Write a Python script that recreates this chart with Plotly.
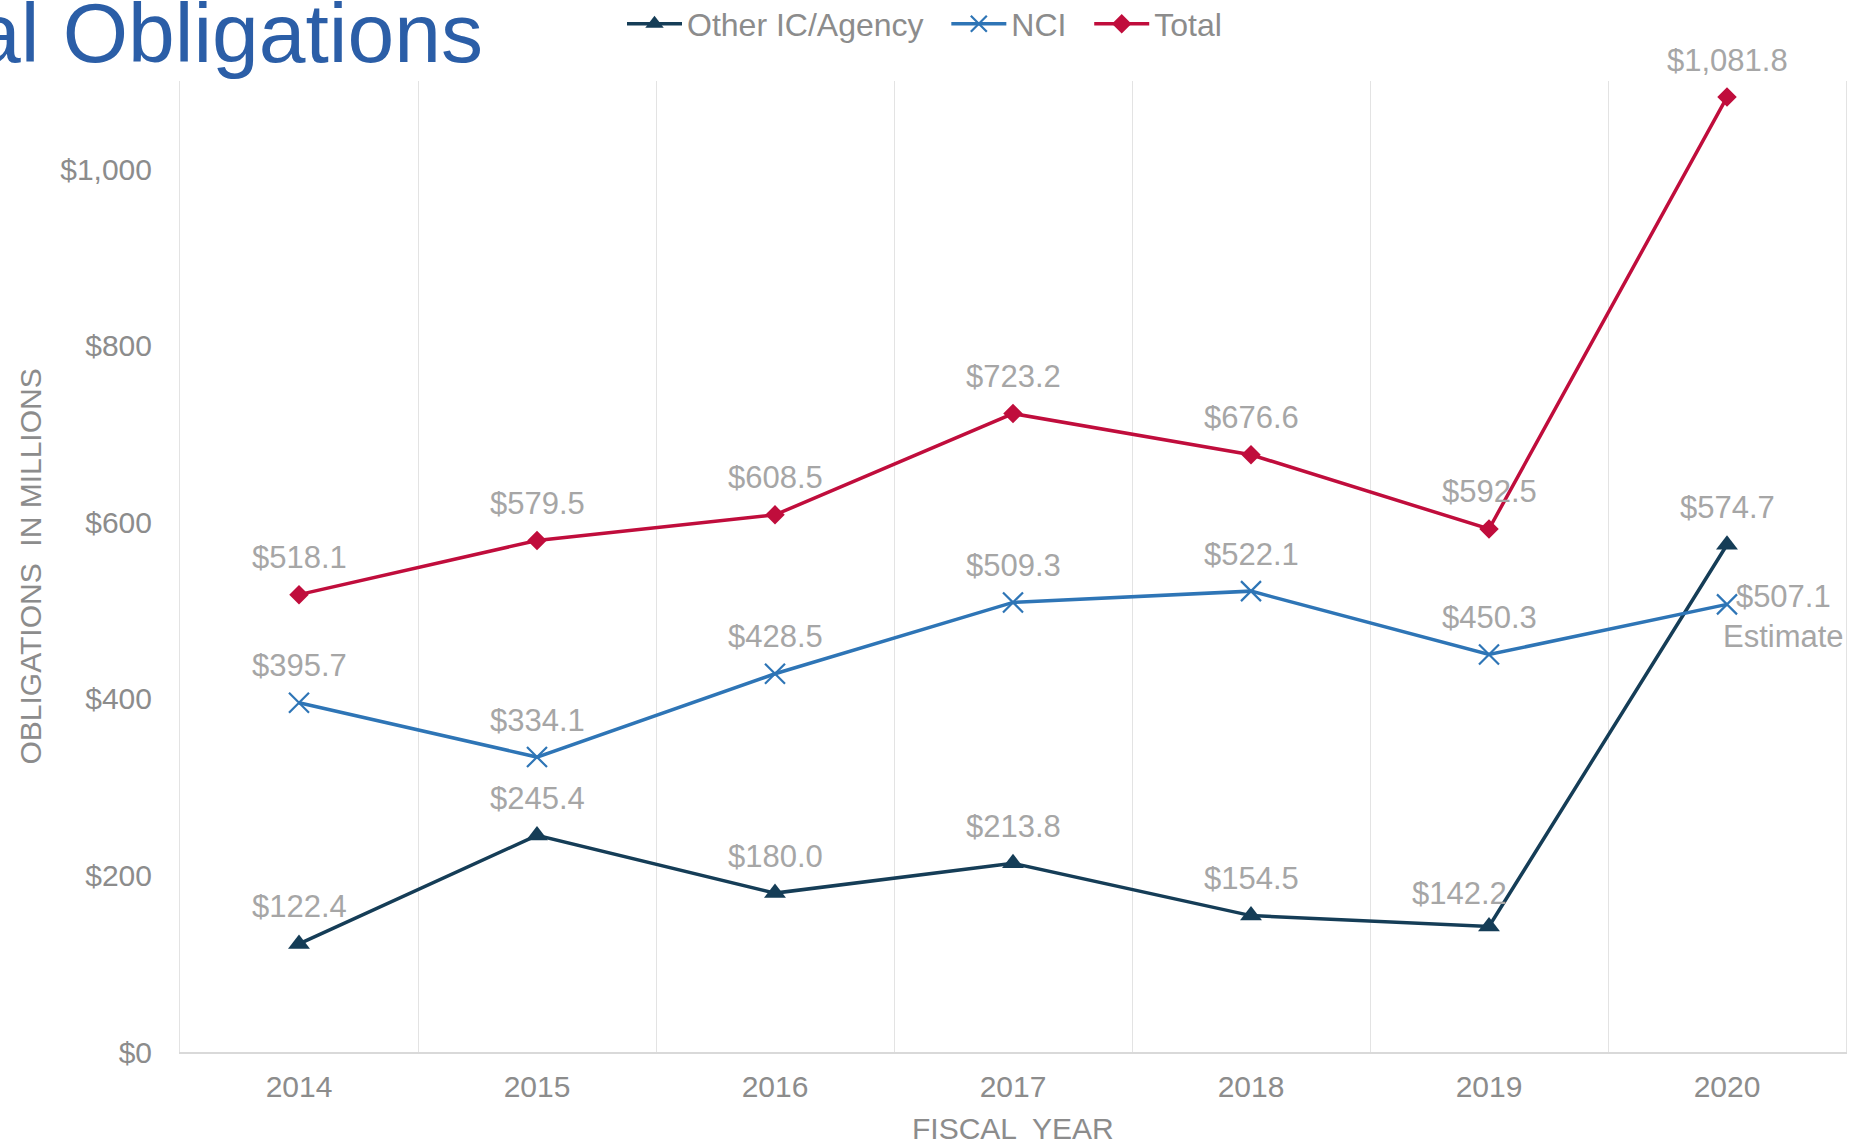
import plotly.graph_objects as go

years = ["2014", "2015", "2016", "2017", "2018", "2019", "2020"]
other_ic = [122.4, 245.4, 180.0, 213.8, 154.5, 142.2, 574.7]
nci = [395.7, 334.1, 428.5, 509.3, 522.1, 450.3, 507.1]
total = [518.1, 579.5, 608.5, 723.2, 676.6, 592.5, 1081.8]
y_ticks = [0, 200, 400, 600, 800, 1000]

FONT = "Liberation Sans, Arial, sans-serif"
LABEL_GRAY = "#a6a6a6"
AXIS_GRAY = "#8c8c8c"
C_OTHER = "#153d57"
C_NCI = "#2e75b6"
C_TOTAL = "#c00d3c"
PAD = "\u00a0\u00a0"  # spacing between legend entries

xs = list(range(len(years)))

fig = go.Figure()
fig.add_trace(go.Scatter(x=xs, y=other_ic, name="Other IC/Agency" + PAD, mode="lines+markers",
                         line=dict(color=C_OTHER, width=3.5),
                         marker=dict(symbol="triangle-up", size=19, color=C_OTHER)))
fig.add_trace(go.Scatter(x=xs, y=nci, name="NCI" + PAD, mode="lines+markers",
                         line=dict(color=C_NCI, width=3.5),
                         marker=dict(symbol="x-thin", size=20, color=C_NCI,
                                     line=dict(color=C_NCI, width=2.2))))
fig.add_trace(go.Scatter(x=xs, y=total, name="Total", mode="lines+markers",
                         line=dict(color=C_TOTAL, width=3.5),
                         marker=dict(symbol="diamond", size=15, color=C_TOTAL)))

annotations = []
def money(v):
    return "${:,.1f}".format(v)

for series_name, vals in (("other", other_ic), ("nci", nci), ("total", total)):
    for i, v in enumerate(vals):
        text = money(v)
        xshift, yshift = 0, 37
        if series_name == "nci" and i == len(vals) - 1:
            text = text + "<br>Estimate"
            xshift, yshift = 56, -12
        if series_name == "other" and i == 5:
            xshift, yshift = -30, 33
        annotations.append(dict(x=i, y=v, xref="x", yref="y", text=text, showarrow=False,
                                xshift=xshift, yshift=yshift,
                                font=dict(family=FONT, size=31, color=LABEL_GRAY)))

# Title (cropped at left in the reference)
annotations.append(dict(x=(-28 - 180) / 1666, y=1.0 + (81 - 33) / 971, xref="paper", yref="paper",
                        xanchor="left", yanchor="middle", text="al Obligations", showarrow=False,
                        font=dict(family=FONT, size=84, color="#2b5ea7")))
# Axis titles
annotations.append(dict(x=0.5, y=-(1128 - 1052) / 971, xref="paper", yref="paper",
                        xanchor="center", yanchor="middle", text="FISCAL  YEAR", showarrow=False,
                        font=dict(family=FONT, size=30, color=AXIS_GRAY)))
annotations.append(dict(x=-(180 - 30) / 1666, y=0.5, xref="paper", yref="paper",
                        xanchor="center", yanchor="middle", text="OBLIGATIONS  IN MILLIONS",
                        textangle=-90, showarrow=False,
                        font=dict(family=FONT, size=30, color=AXIS_GRAY)))

fig.update_layout(
    width=1861, height=1144,
    margin=dict(l=180, r=15, t=81, b=92, autoexpand=False),
    paper_bgcolor="white", plot_bgcolor="white",
    font=dict(family=FONT, color=AXIS_GRAY),
    showlegend=True,
    legend=dict(orientation="h", x=(622 - 180) / 1666, xanchor="left",
                y=1.0 + (81 - 24) / 971, yanchor="middle",
                font=dict(family=FONT, size=32, color=AXIS_GRAY),
                bgcolor="rgba(0,0,0,0)", itemwidth=55, tracegroupgap=0),
    annotations=annotations,
    xaxis=dict(range=[-0.5, len(years) - 0.5], tickmode="array", tickvals=xs, ticktext=years,
               showgrid=False, zeroline=False, showline=True, linecolor="#d9d9d9", linewidth=2,
               ticks="", ticklabelstandoff=7,
               tickfont=dict(family=FONT, size=30, color=AXIS_GRAY),
               minor=dict(tickmode="array", tickvals=[i + 0.5 for i in xs[:-1]],
                          showgrid=True, gridcolor="#e3e3e3", gridwidth=1, ticks="")),
    yaxis=dict(range=[0, 1100], tickmode="array", tickvals=y_ticks,
               ticktext=["${:,}".format(v) for v in y_ticks],
               showgrid=False, zeroline=False,
               showline=True, mirror=True, linecolor="#e3e3e3", linewidth=1,
               ticks="", ticklabelstandoff=21,
               tickfont=dict(family=FONT, size=30, color=AXIS_GRAY)),
)

fig.write_html("out.html", config={"displayModeBar": False},
               post_script="document.body.style.margin='0';document.body.style.overflow='hidden';")
